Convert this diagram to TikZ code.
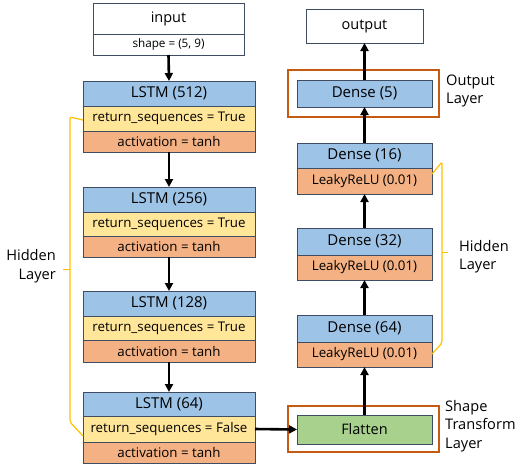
\documentclass[tikz,border=0pt]{standalone}
\usepackage{fontspec}
\setmainfont{Open Sans}
\usetikzlibrary{arrows.meta}
\definecolor{bord}{HTML}{3F4D63}
\definecolor{cblue}{HTML}{9DC3E6}
\definecolor{cyel}{HTML}{FFE699}
\definecolor{corg}{HTML}{F4B183}
\definecolor{cgrn}{HTML}{A9D18E}
\definecolor{frame}{HTML}{C55A11}
\definecolor{brk}{HTML}{FFC000}
\tikzset{
  cell/.style={draw=bord, line width=1pt, inner sep=0pt, outer sep=0pt},
  lw/.style={cell, minimum width=172pt},
  rw/.style={cell, minimum width=135pt},
  big/.style={font=\fontsize{15}{17}\selectfont},
  small/.style={font=\fontsize{13.3}{15}\selectfont},
  tiny/.style={font=\fontsize{11.7}{13}\selectfont},
  flow/.style={line width=2.6pt, -{Triangle[length=8pt,width=8pt]}},
  frm/.style={draw=frame, line width=1.2pt},
  brace/.style={draw=brk, line width=1.2pt, rounded corners=2pt},
  lab/.style={font=\fontsize{14.6}{18.5}\selectfont, inner sep=0pt},
}
\begin{document}
\begin{tikzpicture}[x=1pt,y=-1pt]
\useasboundingbox (0,0) rectangle (518,467);
% input
\node[cell, font=\fontsize{14.5}{16}\selectfont, minimum width=151pt, minimum height=31pt] (in) at (168.5,18.5) {input};
\node[cell, tiny, minimum width=151pt, minimum height=21pt] (ins) at (168.5,44.5) {shape = (5, 9)};
% LSTM stacks
\node[lw, big, fill=cblue, minimum height=25pt] (l1) at (169,93.5) {LSTM (512)};
\node[lw, small, fill=cyel, minimum height=25pt] (l1r) at (169,118.5) {return\_sequences = True};
\node[lw, small, fill=corg, minimum height=21pt] (l1a) at (169,141.5) {activation = tanh};
\node[lw, big, fill=cblue, minimum height=25pt] (l2) at (169,199.5) {LSTM (256)};
\node[lw, small, fill=cyel, minimum height=24pt] (l2r) at (169,224) {return\_sequences = True};
\node[lw, small, fill=corg, minimum height=21pt] (l2a) at (169,246.5) {activation = tanh};
\node[lw, big, fill=cblue, minimum height=25pt] (l3) at (169,303.5) {LSTM (128)};
\node[lw, small, fill=cyel, minimum height=24pt] (l3r) at (169,328) {return\_sequences = True};
\node[lw, small, fill=corg, minimum height=22pt] (l3a) at (169,351) {activation = tanh};
\node[lw, big, fill=cblue, minimum height=24pt] (l4) at (169,404) {LSTM (64)};
\node[lw, small, fill=cyel, minimum height=26pt] (l4r) at (169,429) {return\_sequences = False};
\node[lw, small, fill=corg, minimum height=21pt] (l4a) at (169,452.5) {activation = tanh};
% right column
\node[cell, font=\fontsize{14.5}{16}\selectfont, minimum width=117pt, minimum height=34pt] (out) at (364.5,26) {output};
\draw[frm] (288,70) rectangle (439,117);
\node[rw, big, fill=cblue, minimum height=27pt] (d5) at (364.5,93.5) {Dense (5)};
\node[rw, big, fill=cblue, minimum height=25pt] (d16) at (364.5,155.5) {Dense (16)};
\node[rw, small, fill=corg, minimum height=26pt] (d16a) at (364.5,181) {LeakyReLU (0.01)};
\node[rw, big, fill=cblue, minimum height=27pt] (d32) at (364.5,241.5) {Dense (32)};
\node[rw, small, fill=corg, minimum height=25pt] (d32a) at (364.5,267.5) {LeakyReLU (0.01)};
\node[rw, big, fill=cblue, minimum height=27pt] (d64) at (364.5,328.5) {Dense (64)};
\node[rw, small, fill=corg, minimum height=25pt] (d64a) at (364.5,354.5) {LeakyReLU (0.01)};
\draw[frm] (288,406) rectangle (439,452);
\node[rw, font=\fontsize{14.5}{16}\selectfont, fill=cgrn, minimum height=29pt] (fl) at (364.5,429.5) {Flatten};
% arrows
\draw[flow] (ins.south) -- (l1.north);
\draw[flow] (l1a.south) -- (l2.north);
\draw[flow] (l2a.south) -- (l3.north);
\draw[flow] (l3a.south) -- (l4.north);
\draw[flow] (l4r.east) -- (fl.west);
\draw[flow] (fl.north) -- (d64a.south);
\draw[flow] (d64.north) -- (d32a.south);
\draw[flow] (d32.north) -- (d16a.south);
\draw[flow] (d16.north) -- (d5.south);
\draw[flow] (d5.north) -- (out.south);
% brackets
\coordinate (bl1) at ([yshift=-1.5pt]l1r.west);
\coordinate (bl2) at ([yshift=-7pt]l4r.west);
\draw[brace] (bl1) -- (70,117) -- (70,422) -- (bl2);
\draw[draw=brk, line width=1.2pt] (70,269.5) -- (63,269.5);
\coordinate (br1) at ([yshift=-6pt]d16.south east);
\coordinate (br2) at ([yshift=-12pt]d64a.north east);
\draw[brace] (br1) -- (442,162) -- (442,343) -- (br2);
\draw[draw=brk, line width=1.2pt] (442,252.5) -- (448,252.5);
% labels
\node[lab, align=right, anchor=east] (hl) at (56,266) {Hidden\\Layer};
\node[lab, align=left, anchor=west] (hr) at (459,256.5) {Hidden\\Layer};
\node[lab, align=left, anchor=west] (ol) at (446,91) {Output\\Layer};
\node[lab, align=left, anchor=west] (sl) at (445,426) {Shape\\Transform\\Layer};
\end{tikzpicture}
\end{document}
